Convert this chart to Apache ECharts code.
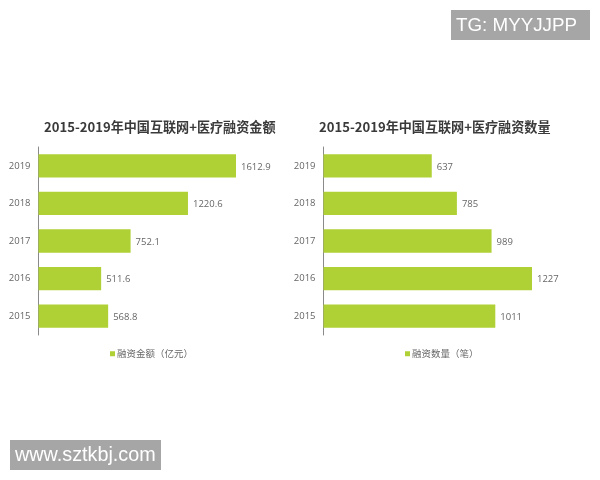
<!DOCTYPE html>
<html><head><meta charset="utf-8">
<style>html,body{margin:0;padding:0;background:#fff}#c{width:600px;height:480px}</style>
<script src="https://cdn.jsdelivr.net/npm/echarts@6/dist/echarts.min.js"></script>
</head><body><div id="c"></div>
<script>
const years = ['2015','2016','2017','2018','2019'];
const amount = [568.8,511.6,752.1,1220.6,1612.9];
const deals = [1011,1227,989,785,637];
const amountName = '融资金额（亿元）';
const dealsName = '融资数量（笔）';
const amountTitle = '2015-2019年中国互联网+医疗融资金额';
const dealsTitle = '2015-2019年中国互联网+医疗融资数量';
const green = '#afd135';
const font = '"Noto Sans CJK SC","Noto Sans",sans-serif';
const numFont = '"Open Sans","Noto Sans",sans-serif';

function cat(i){return {type:'category',gridIndex:i,data:years,
  axisLine:{show:true,lineStyle:{color:'#8a8a8a',width:1}},axisTick:{show:false},
  axisLabel:{color:'#666',fontFamily:numFont,fontSize:9.5,margin:8,padding:[1,0,0,0]}};}
function val(i,max){return {type:'value',gridIndex:i,min:0,max:max,show:false,splitLine:{show:false}};}
function bar(name,i,data){return {name:name,type:'bar',xAxisIndex:i,yAxisIndex:i,data:data,barCategoryGap:'38%',
  itemStyle:{color:green},
  label:{show:true,position:'right',distance:5,offset:[0,1],color:'#666',fontFamily:numFont,fontSize:9.5}};}
function mark(x,y,w,h,text,tx,size){return [
  {type:'rect',left:x,top:y,shape:{width:w,height:h},style:{fill:'#a6a6a6'}},
  {type:'text',left:tx,top:y+h/2-9.5,style:{text:text,fill:'#fff',fontFamily:'"Liberation Sans",sans-serif',fontSize:size,lineHeight:21}}
];}
function legend(name,left){return {data:[name],left:left,top:344,itemWidth:5,itemHeight:5,icon:'rect',
  textStyle:{color:'#666',fontFamily:font,fontSize:9.5,padding:[0,0,0,-3]}};}

const chart = echarts.init(document.getElementById('c'),null,{renderer:'canvas'});
chart.setOption({
  animation:false,backgroundColor:'#fff',
  title:[
    {text:amountTitle,left:39,top:113,textStyle:{fontFamily:font,fontSize:13.1,fontWeight:'bold',color:'#3a3a3a',lineHeight:18}},
    {text:dealsTitle,left:314,top:113,textStyle:{fontFamily:font,fontSize:13.1,fontWeight:'bold',color:'#3a3a3a',lineHeight:18}}
  ],
  grid:[
    {left:38.5,top:147,width:244.9,height:188},
    {left:323.5,top:147,width:254.9,height:188}
  ],
  xAxis:[val(0,2000),val(1,1500)],
  yAxis:[cat(0),cat(1)],
  legend:[legend(amountName,105),legend(dealsName,400)],
  series:[bar(amountName,0,amount),bar(dealsName,1,deals)],
  graphic:[...mark(451,10,139,30,'TG: MYYJJPP',456,18.8),...mark(10,440,151,30,'www.sztkbj.com',15,19.8)]
});
</script></body></html>
